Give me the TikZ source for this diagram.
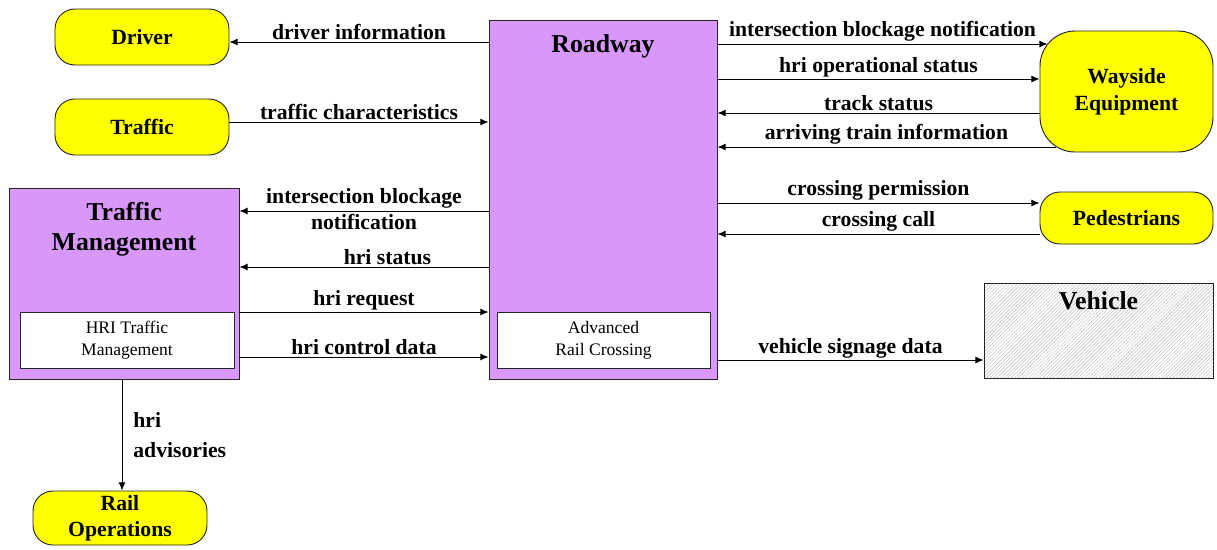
\documentclass[tikz,border=0pt]{standalone}
\usepackage{fontspec}
\setmainfont{Liberation Serif}
\usetikzlibrary{arrows.meta,patterns,calc}

\definecolor{boxpurple}{RGB}{216,152,250}
\definecolor{boxyellow}{RGB}{255,255,0}

\begin{document}
\begin{tikzpicture}[
    x=0.03cm, y=-0.03cm,
    ext/.style={draw=black!85, thick, fill=boxyellow, rounded corners=17pt,
                minimum width=5.22cm, minimum height=1.68cm, align=center,
                font=\bfseries\fontsize{18.5}{22}\selectfont},
    subsys/.style={draw=black!85, thick, fill=boxpurple},
    boxtitle/.style={below, align=center, font=\bfseries\fontsize{22}{25.5}\selectfont},
    module/.style={draw=black!85, thick, fill=white, minimum height=1.68cm,
                   align=center, font=\fontsize{15}{19}\selectfont},
    flow/.style={draw, thick, -{Latex[length=7pt,width=6pt]}},
    lbl/.style={above, inner sep=1.5pt, font=\bfseries\fontsize{18.5}{21}\selectfont}
  ]
  \useasboundingbox (0,0) rectangle (1217,549);

  % terminators
  \node[ext] (driver) at (142,37) {Driver};
  \node[ext] (traffic) at (142,127) {Traffic};
  \node[ext, minimum height=1.62cm] (railops) at (120,518) {Rail\\Operations};
  \node[ext, minimum width=5.19cm, minimum height=3.63cm, rounded corners=30pt,
        font=\bfseries\fontsize{18.5}{23}\selectfont] (wayside) at (1126.5,91.5) {Wayside\\Equipment};
  \node[ext, minimum width=5.19cm, minimum height=1.56cm] (peds) at (1126.5,218) {Pedestrians};

  % subsystems
  \node[subsys, minimum width=6.9cm, minimum height=5.73cm] (tm) at (124,283.5) {};
  \node[boxtitle, yshift=-9pt] (tmtitle) at (tm.north) {Traffic\\Management};
  \node[module, minimum width=6.42cm] (hritm) at (127,340) {HRI Traffic\\Management};

  \node[subsys, minimum width=6.84cm, minimum height=10.77cm] (road) at (603,199.5) {};
  \node[boxtitle, yshift=-9pt] (roadtitle) at (road.north) {Roadway};
  \node[module, minimum width=6.39cm] (arc) at (603.5,340) {Advanced\\Rail Crossing};

  \node[draw=black!85, thick, pattern=north east lines, pattern color=black!25,
        minimum width=6.87cm, minimum height=2.85cm] (vehicle) at (1098.5,330.5) {};
  \node[boxtitle, yshift=-4pt] (vehtitle) at (vehicle.north) {Vehicle};

  % left side flows
  \draw[flow] (road.west |- 0,42) -- node[lbl] {driver information} (driver.east |- 0,42);
  \draw[flow] (traffic.east |- 0,122) -- node[lbl] {traffic characteristics} (road.west |- 0,122);
  \draw[flow] (road.west |- 0,211) -- node[lbl] {intersection blockage}
    node[below, inner sep=2pt, font=\bfseries\fontsize{18.5}{21}\selectfont] {notification} (tm.east |- 0,211);
  \draw[flow] (road.west |- 0,267) -- node[lbl, xshift=20pt] {hri status} (tm.east |- 0,267);
  \draw[flow] (tm.east |- 0,312) -- node[lbl] {hri request} (road.west |- 0,312);
  \draw[flow] (tm.east |- 0,357) -- node[lbl] {hri control data} (road.west |- 0,357);
  \draw[flow] (tm.south -| 122,0) -- node[right, align=left, xshift=6pt,
    font=\bfseries\fontsize{18.5}{25}\selectfont] {hri\\advisories} (railops.north -| 122,0);

  % right side flows
  \draw[flow] (road.east |- 0,44) -- node[lbl] {intersection blockage notification} ($(wayside.west |- 0,44)+(8,0)$);
  \draw[flow] (road.east |- 0,79) -- node[lbl] {hri operational status} (wayside.west |- 0,79);
  \draw[flow] (wayside.west |- 0,113) -- node[lbl] {track status} (road.east |- 0,113);
  \draw[flow] ($(wayside.west |- 0,147)+(16,0)$) -- node[lbl] {arriving train information} (road.east |- 0,147);
  \draw[flow] (road.east |- 0,203) -- node[lbl] {crossing permission} (peds.west |- 0,203);
  \draw[flow] (peds.west |- 0,234) -- node[lbl] {crossing call} (road.east |- 0,234);
  \draw[flow] (road.east |- 0,360) -- node[lbl] {vehicle signage data} (vehicle.west |- 0,360);
\end{tikzpicture}
\end{document}
